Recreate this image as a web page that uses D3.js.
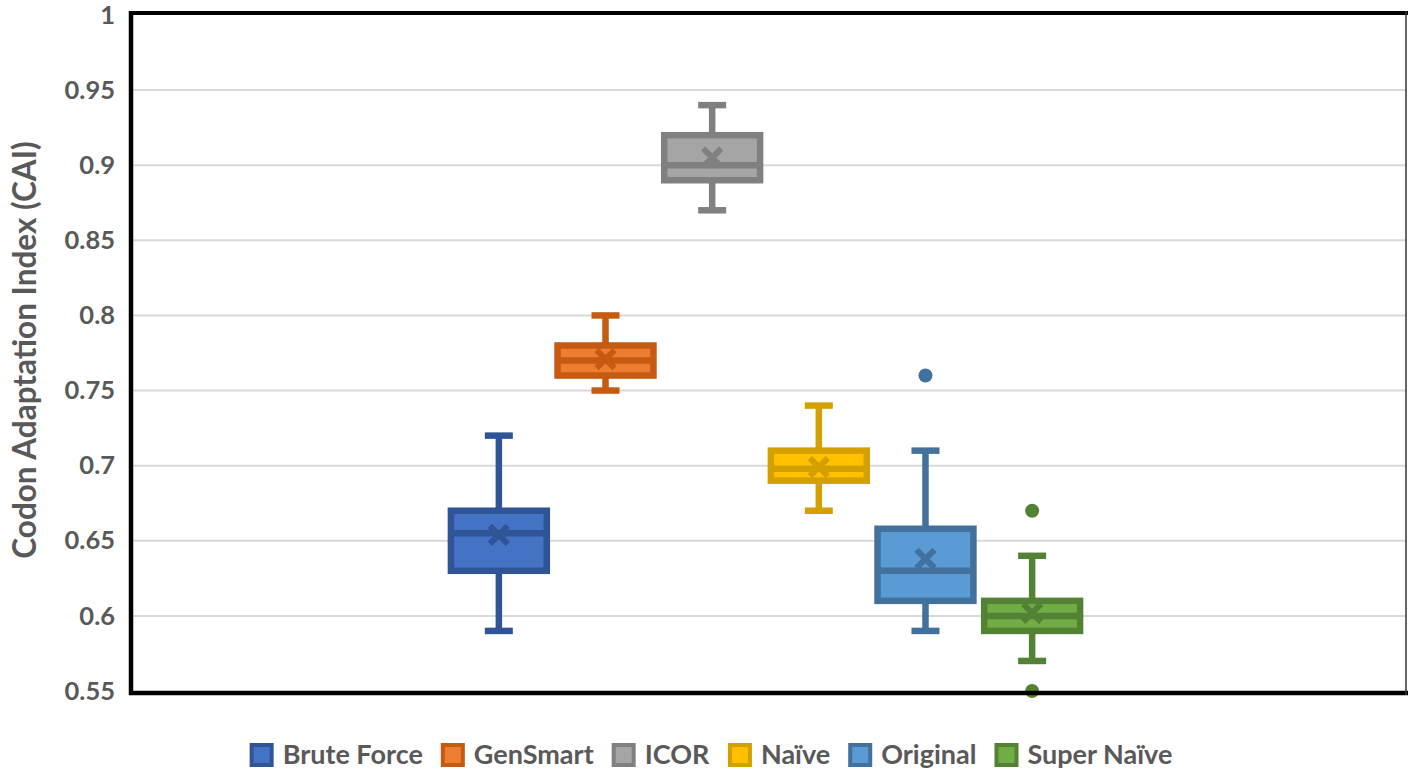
<!DOCTYPE html>
<html>
<head>
<meta charset="utf-8">
<script src="https://cdn.jsdelivr.net/npm/d3@7/dist/d3.min.js"></script>
<style>
  html, body { margin: 0; padding: 0; background: #ffffff; }
  svg { display: block; font-family: Lato, "Open Sans", "Liberation Sans", sans-serif; }
</style>
</head>
<body>
<svg id="chart" width="1408" height="772"></svg>
<script>
// Codon Adaptation Index by optimisation method
const seriesNames = ["Brute Force", "GenSmart", "ICOR", "Naïve", "Original", "Super Naïve"];
const whiskerLow  = [0.59, 0.75, 0.87, 0.67, 0.59, 0.57];
const quartile1   = [0.63, 0.76, 0.89, 0.69, 0.61, 0.59];
const medians     = [0.655, 0.77, 0.90, 0.698, 0.63, 0.60];
const quartile3   = [0.67, 0.78, 0.92, 0.71, 0.658, 0.61];
const whiskerHigh = [0.72, 0.80, 0.94, 0.74, 0.71, 0.64];
const means       = [0.654, 0.771, 0.905, 0.699, 0.638, 0.602];
const outliers    = [[], [], [], [], [0.76], [0.67, 0.55]];
const yTicks      = [0.55, 0.6, 0.65, 0.7, 0.75, 0.8, 0.85, 0.9, 0.95, 1];

const fills   = ["#4472C4", "#ED7D31", "#A5A5A5", "#FFC000", "#5B9BD5", "#70AD47"];
const strokes = ["#2F5597", "#C55A11", "#808080", "#D4A000", "#41719C", "#548235"];

const svg = d3.select("#chart");
const plot = { left: 133, right: 1406, top: 15, bottom: 691 };
const W = plot.right - plot.left;

const y = d3.scaleLinear().domain([0.55, 1]).range([plot.bottom, plot.top]);

// one category, six series side by side around the middle of the plot
const x = d3.scaleBand()
  .domain(seriesNames)
  .range([plot.left + 0.2455 * W, plot.left + 0.7482 * W])
  .paddingInner(0.04)
  .paddingOuter(0.02);

// gridlines
svg.append("g")
  .selectAll("line")
  .data(yTicks.filter(t => t > 0.55 && t < 1))
  .join("line")
  .attr("x1", plot.left)
  .attr("x2", plot.right)
  .attr("y1", d => y(d))
  .attr("y2", d => y(d))
  .attr("stroke", "#d9d9d9")
  .attr("stroke-width", 2);

// y axis labels
const yAxis = d3.axisLeft(y).tickValues(yTicks).tickSize(0).tickPadding(18)
  .tickFormat(d => d3.format("")(+d.toFixed(2)));
const ga = svg.append("g").attr("transform", `translate(${plot.left},0)`).call(yAxis);
ga.select(".domain").remove();
ga.selectAll("text")
  .attr("fill", "#595959")
  .attr("font-size", 25.5)
  .attr("font-weight", "bold")
  .attr("font-family", "Lato, 'Open Sans', sans-serif");

// y axis title
svg.append("text")
  .attr("transform", `translate(36,${(plot.top + plot.bottom) / 2 - 3}) rotate(-90)`)
  .attr("text-anchor", "middle")
  .attr("fill", "#595959")
  .attr("font-size", 31.5)
  .attr("font-weight", "bold")
  .text("Codon Adaptation Index (CAI)");

// boxes
const sw = 6.5;
const capW = 28;
const data = seriesNames.map((name, i) => ({
  name, i,
  lo: whiskerLow[i], q1: quartile1[i], med: medians[i], q3: quartile3[i],
  hi: whiskerHigh[i], mean: means[i], out: outliers[i]
}));

const g = svg.append("g")
  .selectAll("g")
  .data(data)
  .join("g")
  .attr("transform", d => `translate(${x(d.name)},0)`);

const bw = x.bandwidth();
const cx = bw / 2;

// whisker stems
g.append("line")
  .attr("x1", cx).attr("x2", cx)
  .attr("y1", d => y(d.hi)).attr("y2", d => y(d.q3))
  .attr("stroke", d => strokes[d.i]).attr("stroke-width", sw);
g.append("line")
  .attr("x1", cx).attr("x2", cx)
  .attr("y1", d => y(d.q1)).attr("y2", d => y(d.lo))
  .attr("stroke", d => strokes[d.i]).attr("stroke-width", sw);
// whisker caps
g.append("line")
  .attr("x1", cx - capW / 2).attr("x2", cx + capW / 2)
  .attr("y1", d => y(d.hi)).attr("y2", d => y(d.hi))
  .attr("stroke", d => strokes[d.i]).attr("stroke-width", sw);
g.append("line")
  .attr("x1", cx - capW / 2).attr("x2", cx + capW / 2)
  .attr("y1", d => y(d.lo)).attr("y2", d => y(d.lo))
  .attr("stroke", d => strokes[d.i]).attr("stroke-width", sw);

// interquartile box
g.append("rect")
  .attr("x", sw / 2)
  .attr("width", bw - sw)
  .attr("y", d => y(d.q3))
  .attr("height", d => y(d.q1) - y(d.q3))
  .attr("fill", d => fills[d.i])
  .attr("stroke", d => strokes[d.i])
  .attr("stroke-width", sw);

// median
g.append("line")
  .attr("x1", sw / 2).attr("x2", bw - sw / 2)
  .attr("y1", d => y(d.med)).attr("y2", d => y(d.med))
  .attr("stroke", d => strokes[d.i]).attr("stroke-width", sw);

// mean marker
const m = 9;
g.append("path")
  .attr("d", d => {
    const my = y(d.mean);
    return `M${cx - m},${my - m}L${cx + m},${my + m}M${cx - m},${my + m}L${cx + m},${my - m}`;
  })
  .attr("stroke", d => strokes[d.i])
  .attr("stroke-width", 6)
  .attr("fill", "none");

// outliers
g.selectAll("circle")
  .data(d => d.out.map(v => ({ v, i: d.i })))
  .join("circle")
  .attr("cx", cx)
  .attr("cy", d => y(d.v))
  .attr("r", 7)
  .attr("fill", d => strokes[d.i]);

// plot frame
const frame = svg.append("g");
frame.append("line")
  .attr("x1", plot.left - 2).attr("x2", plot.left - 2)
  .attr("y1", plot.top - 4).attr("y2", plot.bottom + 4)
  .attr("stroke", "#000").attr("stroke-width", 4.5);
frame.append("line")
  .attr("x1", plot.left - 4).attr("x2", plot.right + 2)
  .attr("y1", plot.top - 2).attr("y2", plot.top - 2)
  .attr("stroke", "#000").attr("stroke-width", 4);
frame.append("line")
  .attr("x1", plot.left - 4).attr("x2", plot.right + 2)
  .attr("y1", plot.bottom + 2).attr("y2", plot.bottom + 2)
  .attr("stroke", "#000").attr("stroke-width", 4.5);
frame.append("line")
  .attr("x1", plot.right).attr("x2", plot.right)
  .attr("y1", plot.top - 4).attr("y2", plot.bottom + 4)
  .attr("stroke", "#333").attr("stroke-width", 1.5);

// legend
const legend = svg.append("g").attr("transform", "translate(0,755)");
const items = legend.selectAll("g").data(seriesNames).join("g");
items.append("rect")
  .attr("x", 2).attr("y", -10)
  .attr("width", 20).attr("height", 20)
  .attr("fill", (d, i) => fills[i])
  .attr("stroke", (d, i) => strokes[i])
  .attr("stroke-width", 4);
items.append("text")
  .attr("x", 33)
  .attr("y", 0)
  .attr("dy", "0.35em")
  .attr("fill", "#595959")
  .attr("font-size", 27)
  .attr("font-weight", "bold")
  .text(d => d);
// lay the legend entries out in a centred row
const widths = [];
items.each(function () { widths.push(this.getBBox().width); });
const gap = 20;
const total = d3.sum(widths) + gap * (widths.length - 1);
let start = 710 - total / 2;
items.attr("transform", (d, i) => {
  const t = `translate(${start},0)`;
  start += widths[i] + gap;
  return t;
});
</script>
</body>
</html>
